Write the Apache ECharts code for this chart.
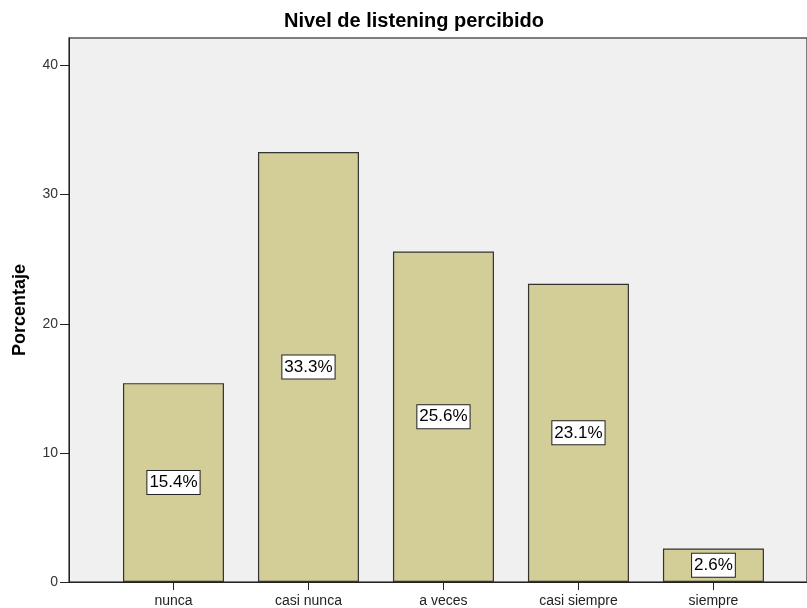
<!DOCTYPE html>
<html><head><meta charset="utf-8">
<script src="https://cdn.jsdelivr.net/npm/echarts@6/dist/echarts.min.js"></script>
<style>html,body{margin:0;padding:0;background:#fff}#c{width:807px;height:608px}</style>
</head><body><div id="c"></div>
<script>
const categories = ['nunca', 'casi nunca', 'a veces', 'casi siempre', 'siempre'];
const percentages = [15.4, 33.3, 25.6, 23.1, 2.6];
const yTicks = [0, 10, 20, 30, 40];

const positions = categories.map((c, i) => i);
const chart = echarts.init(document.getElementById('c'));
chart.setOption({
  backgroundColor: '#ffffff',
  animation: false,
  title: {
    text: 'Nivel de listening percibido',
    left: 409, top: 6, textAlign: 'center',
    textStyle: { fontFamily: 'Liberation Sans, Arial', fontSize: 20, fontWeight: 'bold', color: '#000' }
  },
  grid: {
    left: 69, right: 0, top: 38, bottom: 25,
    show: true, backgroundColor: '#f0f0f0', borderColor: '#555', borderWidth: 1.5
  },
  xAxis: {
    type: 'value', min: -0.774, max: 4.693,
    splitLine: { show: false },
    axisLine: { show: true, lineStyle: { color: '#222', width: 1 } },
    axisTick: { show: true, length: 8, customValues: positions, lineStyle: { color: '#222' } },
    axisLabel: {
      customValues: positions, margin: 12,
      formatter: v => categories[Math.round(v)],
      fontFamily: 'Liberation Sans, Arial', fontSize: 14, color: '#222'
    }
  },
  yAxis: {
    type: 'value', min: 0, max: 42.13,
    name: 'Porcentaje', nameLocation: 'middle', nameGap: 40,
    nameTextStyle: { fontFamily: 'Liberation Sans, Arial', fontSize: 18, fontWeight: 'bold', color: '#000' },
    splitLine: { show: false },
    axisLine: { show: true, onZero: false, lineStyle: { color: '#222', width: 1 } },
    axisTick: { show: true, length: 9, customValues: yTicks, lineStyle: { color: '#222' } },
    axisLabel: {
      customValues: yTicks, margin: 11,
      fontFamily: 'Liberation Sans, Arial', fontSize: 14, color: '#333'
    }
  },
  series: [{
    type: 'bar',
    barWidth: 101,
    data: percentages.map((v, i) => [i, v]),
    itemStyle: { color: '#d3ce98', borderColor: '#333', borderWidth: 1.2 },
    label: {
      show: true, position: 'inside',
      formatter: p => p.value[1].toFixed(1) + '%',
      fontFamily: 'Liberation Sans, Arial', fontSize: 17, color: '#000',
      backgroundColor: '#fff', borderColor: '#222', borderWidth: 1,
      padding: [4, 2, 2, 2]
    }
  }]
});
</script></body></html>
